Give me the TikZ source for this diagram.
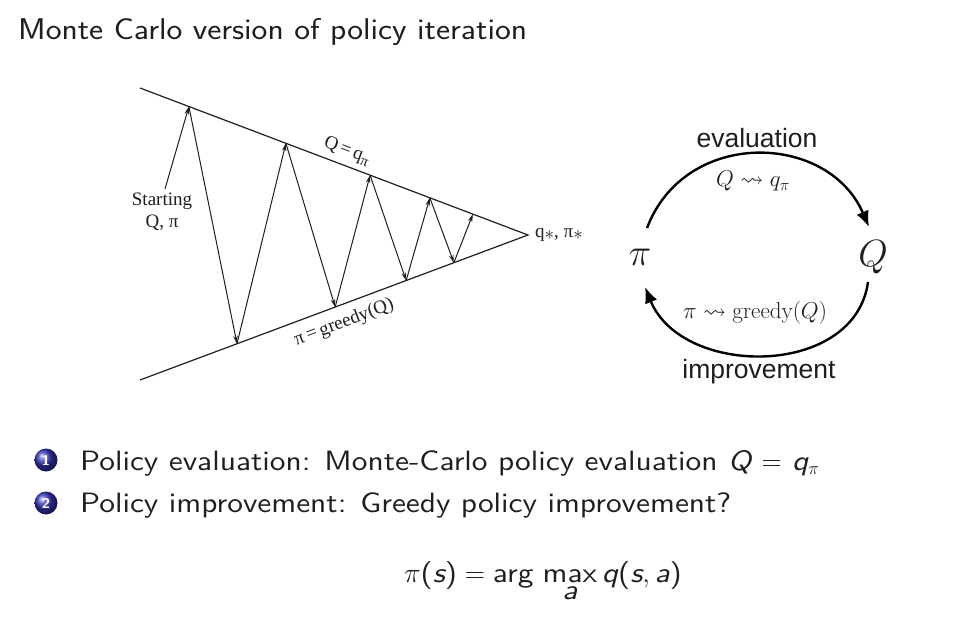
\RequirePackage{fix-cm}
\documentclass[tikz,border=0pt]{standalone}
\usepackage{amssymb}
\usepackage{fontspec}
\usetikzlibrary{arrows.meta,calc}
\DeclareFontFamily{U}{msa}{}
\DeclareFontShape{U}{msa}{m}{n}{<-6>msam5<6-8>msam7<8->msam10}{}
\newfontfamily\figserif{Liberation Serif}
\newfontfamily\figsans{Liberation Sans}
\newfontfamily\titlesans{lmsans17-regular.otf}[FakeStretch=1.12]
\newfontfamily\bodysans{lmsans10-regular.otf}[FakeStretch=1.12,
  SlantedFont=lmsans10-oblique.otf, BoldFont=lmsans10-bold.otf]
\definecolor{inkgray}{HTML}{1E1E1E}
\definecolor{ballblue}{RGB}{51,51,179}

\begin{document}
\begin{tikzpicture}[
  x=1pt, y=-1pt,
  >=Stealth,
  text=inkgray,
  bound/.style={draw=inkgray, line width=1.2pt},
  zig/.style={-{Stealth[length=8pt,width=4.5pt]}, draw=inkgray, line width=1pt},
  cyc/.style={-{Latex[length=16pt,width=13pt]}, draw=black, line width=2.4pt},
  serlabel/.style={font=\figserif\fontsize{19}{22}\selectfont, inner sep=0pt, align=center},
  cyclabel/.style={font=\figsans\fontsize{26.5}{30}\selectfont, inner sep=0pt},
  mathlabel/.style={font=\fontsize{23}{26}\selectfont, inner sep=0pt},
  bodytext/.style={font=\bodysans\fontsize{28}{32}\selectfont, anchor=base west, inner sep=0pt},
  enumball/.style={circle, minimum size=23pt, inner sep=0pt, ball color=ballblue,
    font=\bodysans\bfseries\fontsize{14}{14}\selectfont, text=white}
]
  \useasboundingbox (0,0) rectangle (961,634);

  \node[font=\titlesans\fontsize{30}{36}\selectfont, anchor=base west, inner sep=0pt] (title) at (18,40) {Monte Carlo version of policy iteration};

  \coordinate (tl) at (140,88);
  \coordinate (bl) at (140,380);
  \coordinate (apex) at (528,235);
  \draw[bound] (tl) -- (apex) -- (bl);

  \foreach \n/\t in {0/0.126,1/0.376,2/0.593,3/0.747,4/0.858}
    \coordinate (t\n) at ($(tl)!\t!(apex)$);
  \foreach \n/\t in {1/0.25,2/0.503,3/0.686,4/0.809}
    \coordinate (b\n) at ($(bl)!\t!(apex)$);

  \node[serlabel] (start) at (162,212) {Starting\\Q, π};
  \draw[zig] ($(start.north)+(3,-4)$) -- (t0);
  \foreach \a/\b in {t0/b1,b1/t1,t1/b2,b2/t2,t2/b3,b3/t3,t3/b4,b4/t4}
    \draw[zig] (\a) -- (\b);

  \path (tl) -- (apex) node[pos=0.52, sloped, above=6pt, serlabel] (qlabel) {Q\,=\,q\lower4pt\hbox{\fontsize{15}{15}\selectfont π}};
  \path (bl) -- (apex) node[pos=0.51, sloped, below=9pt, serlabel] (glabel) {π\,=\,greedy(Q)};
  \node[serlabel, anchor=west] (opt) at ($(apex)+(7,0)$) {q\lower2pt\hbox{$\ast$}, π\lower2pt\hbox{$\ast$}};

  \node[font=\fontsize{38}{40}\selectfont, inner sep=0pt] (pi) at (640,257) {$\pi$};
  \node[font=\fontsize{38}{40}\selectfont, inner sep=0pt] (Q) at (873,257) {$Q$};
  \coordinate (evalstart) at (647,228);
  \coordinate (evalend) at (869,227);
  \coordinate (imprstart) at (868,282);
  \coordinate (imprend) at (645,287);
  \draw[cyc] (evalstart) .. controls (685,128) and (828,132) .. (evalend);
  \draw[cyc] (imprstart) .. controls (855,378) and (682,378) .. (imprend);
  \node[cyclabel] (eval) at (757,138) {evaluation};
  \node[cyclabel] (impr) at (759,372) {improvement};
  \node[mathlabel] (evalmath) at (753,181) {$Q \leadsto q_\pi$};
  \node[mathlabel] (imprmath) at (755,313) {$\pi \leadsto \mathrm{greedy}(Q)$};

  \node[enumball] (ball1) at (46,460) {1};
  \node[enumball] (ball2) at (46,503) {2};
  \node[bodytext] (item1) at (80,470) {Policy evaluation: Monte-Carlo policy evaluation {\slshape Q} $=$ {\slshape q}\lower4pt\hbox{\fontsize{18}{18}\selectfont$\pi$}};
  \node[bodytext] (item2) at (80,512) {Policy improvement: Greedy policy improvement?};
  \node[font=\bodysans\fontsize{28}{32}\selectfont, anchor=base, inner sep=0pt] (argmax) at (543,582)
    {$\displaystyle \pi\mbox{(}\mbox{\slshape s}\mbox{)} = \mbox{arg}\,\mathop{\mbox{max}}\limits_{\mbox{\slshape a}} \mbox{\slshape q}\mbox{(}\mbox{\slshape s}, \mbox{\slshape a}\mbox{)}$};
\end{tikzpicture}
\end{document}
